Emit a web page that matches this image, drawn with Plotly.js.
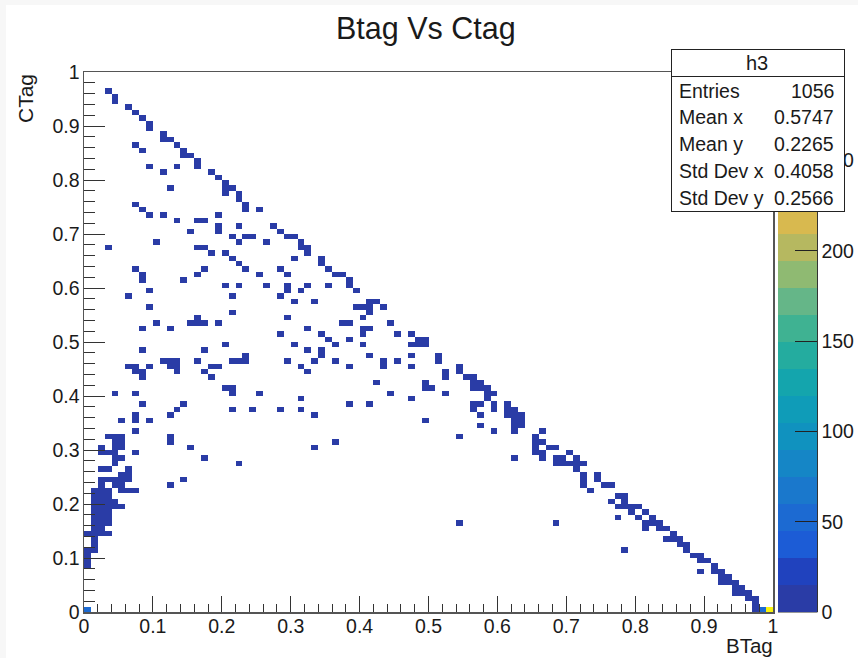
<!DOCTYPE html>
<html><head><meta charset="utf-8">
<script src="https://cdn.plot.ly/plotly-3.0.1.min.js"></script>
<style>
html,body{margin:0;padding:0;background:#f7f7f7;width:858px;height:658px;overflow:hidden}
#sheet{position:absolute;left:6px;top:5px;right:0;bottom:0;background:#fff}
#plot{position:absolute;left:0;top:0;width:858px;height:658px}
</style></head><body><div id="sheet"></div><div id="plot"></div>
<script>
// Filled histogram bins: [x bin, y bin] on a 100 x 100 grid, low-count cells
const lowBins = [
[3,96],[4,95],[4,94],[6,93],[7,92],[8,91],[9,90],[9,89],[11,88],[11,87],[12,87],[13,86],[14,85],[14,84],[15,84],
[16,83],[16,82],[18,81],[19,80],[20,79],[20,78],[20,77],[21,78],[22,77],[22,76],[23,75],[23,74],[25,74],
[27,71],[28,70],[29,69],[30,69],[31,68],[31,67],[32,67],[32,66],[34,65],[34,64],[35,63],[36,62],[37,62],[38,61],[38,60],[39,59],
[41,57],[42,57],[41,56],[41,55],[39,56],[40,56],[43,56],[40,54],[44,53],[37,53],[38,53],[40,52],[41,52],[40,51],[45,51],[47,51],
[48,50],[49,50],[47,49],[48,49],[49,49],[34,51],[35,50],[38,50],[32,52],[28,51],[29,54],[21,55],[9,56],[21,58],[28,58],[30,57],[33,57],
[6,58],[9,59],[20,60],[22,60],[26,60],[29,60],[29,59],[31,59],[32,60],[35,60],[7,63],[8,62],[8,61],[14,61],[16,62],[17,63],
[23,63],[22,64],[21,65],[20,66],[18,66],[16,67],[17,67],[3,67],[10,68],[22,68],[21,69],[23,69],[24,69],[26,68],[30,65],[25,62],[28,63],[29,62],
[19,73],[19,71],[19,70],[22,71],[15,70],[7,75],[8,74],[9,73],[11,73],[13,72],[16,72],[17,72],
[7,86],[8,85],[9,82],[11,81],[13,82],[12,78],[8,52],[10,53],[12,52],[15,53],[16,53],[17,53],[16,54],[19,53],
[0,8],[0,9],[0,10],[0,11],[1,11],[1,12],[1,13],[0,14],[1,14],[2,14],[3,14],[1,15],[2,15],[1,16],[2,16],[3,16],[1,17],[2,17],[3,17],[1,18],[2,18],[3,18],
[1,19],[2,19],[3,19],[4,19],[5,19],[1,20],[2,20],[3,20],[4,20],[1,21],[2,21],[3,21],[1,22],[2,22],[3,22],[5,22],[6,22],[7,22],[2,23],[4,23],[5,23],
[2,24],[3,24],[4,24],[5,24],[6,24],[5,25],[6,25],[6,26],[2,26],[3,26],[4,27],[4,28],[5,28],[2,29],[3,29],[4,29],[7,29],[2,30],[4,30],[5,30],[4,31],[5,31],[3,32],[4,32],[5,32],
[7,33],[5,35],[7,35],[7,36],[9,35],[12,32],[12,31],[15,30],[17,28],[22,27],[14,24],[12,23],[33,30],[36,31],[12,36],[13,37],[14,38],[8,38],[4,40],[7,40],
[20,41],[21,41],[21,40],[25,40],[21,37],[24,37],[28,37],[31,37],[31,39],[33,36],[38,38],[41,38],[44,40],[47,39],[42,42],[49,35],[49,42],[49,41],[50,41],
[8,48],[17,48],[20,49],[30,49],[32,48],[36,49],[40,49],[34,48],[34,47],[41,47],[47,47],[23,47],[21,46],[22,46],[23,46],[16,46],[11,46],[12,46],[13,46],[12,45],[13,45],[13,44],
[6,45],[7,45],[9,45],[7,44],[8,44],[8,43],[17,44],[18,45],[19,45],[18,43],[29,46],[31,45],[32,44],[33,46],[36,46],[38,45],[43,46],[43,45],[45,46],[47,45],
[51,47],[51,46],[54,45],[54,44],[52,44],[52,43],[55,43],[56,43],[56,42],[57,42],[56,41],[57,41],[58,41],[49,42],[44,40],[52,40],[58,40],[59,40],[58,39],
[56,38],[57,38],[56,37],[59,38],[59,37],[61,38],[61,37],[62,37],[61,36],[62,36],[63,36],[62,35],[63,35],[62,34],[63,34],[62,33],[57,36],[57,34],[59,33],[66,33],
[54,32],[65,32],[65,31],[66,31],[65,30],[67,30],[68,30],[65,29],[66,29],[66,28],[62,28],[70,29],[68,28],[69,28],[71,28],[68,27],[69,27],[70,27],[71,27],[72,27],[71,26],
[72,25],[72,24],[72,23],[74,25],[74,24],[75,23],[76,23],[73,22],[77,21],[78,21],[76,20],[78,20],[77,19],[78,19],[79,19],[80,19],[79,18],[81,18],[82,17],[80,17],[77,17],
[81,16],[82,16],[83,16],[81,15],[83,15],[84,15],[85,14],[84,13],[85,13],[86,13],[86,12],[87,12],[87,11],[88,10],[89,10],[89,9],[90,9],[91,8],[91,7],[92,7],[89,7],
[92,6],[93,6],[92,5],[93,5],[94,5],[94,4],[95,4],[94,3],[95,3],[96,3],[96,2],[97,2],[97,1],[97,0],[78,11],[54,16],[68,16]
];
const lowCount = 2;
// Bins that stand out from the rest
const peakBinX = [0, 98, 99];
const peakBinY = [0, 0, 0];
const peakCount = [48, 46, 292];

const zMax = 299;
const paletteBands = ['#2a3ca6','#2042be','#1c5cd6','#1c6ad2','#1a78cc','#1586c6','#1092bf','#0f9cb8','#14a5ad','#24ac9f','#3fb292',
 '#65b688','#8fba72','#b6b860','#d8b94f','#ecbb40','#f8c432','#f9d426','#f8e61a','#f9f50f'];

const titleText = 'Btag Vs Ctag';
const xTitle = 'BTag';
const yTitle = 'CTag';
const statsName = 'h3';
const statsLabels = ['Entries','Mean x','Mean y','Std Dev x','Std Dev y'];
const statsValues = ['1056','0.5747','0.2265','0.4058','0.2566'];

const FONT = '"Liberation Sans", Arial, sans-serif';
const W = 858, H = 658, L = 84, R = 773, T = 72, B = 612;
const px = v => (v - L) / (R - L);
const py = v => (B - v) / (B - T);

const z = Array.from({length:100}, () => Array(100).fill(null));
lowBins.forEach(([i,j]) => { z[j][i] = lowCount; });
peakBinX.forEach((i,k) => { z[peakBinY[k]][i] = peakCount[k]; });

const cs = [];
paletteBands.forEach((c,k) => { cs.push([k/20,c]); cs.push([(k+1)/20,c]); });

const note = (text,x,y,xa,ya,size,extra) => Object.assign({text, x:px(x), y:py(y), xref:'paper', yref:'paper',
  xanchor:xa, yanchor:ya, showarrow:false, font:{family:FONT,size,color:'#1a1a1a'}, borderpad:0}, extra||{});

const rowY = [91,117,144,171,198];
const annotations = [
  note(' ',670.5,49,'left','top',12,{width:172,height:161,bgcolor:'#fff',bordercolor:'#222',borderwidth:1}),
  note(' ',670.5,49,'left','top',12,{width:172,height:26,bgcolor:'#fff',bordercolor:'#222',borderwidth:1}),
  note(statsName,757,63,'center','middle',20),
  note(titleText,425.5,28,'center','middle',30.5),
  note(xTitle,774,645.5,'right','middle',20.5),
  note(yTitle,25,98,'center','middle',21,{textangle:-90})
];
statsLabels.forEach((s,k)=>annotations.push(note(s,678,rowY[k],'left','middle',19.5)));
statsValues.forEach((s,k)=>annotations.push(note(s,835,rowY[k],'right','middle',19.5)));

const axisBase = {range:[0,1], dtick:0.1, tick0:0, showgrid:false, zeroline:false, showline:true, mirror:true,
  linecolor:'#555', linewidth:1.5, ticks:'inside', tickcolor:'#333', tickwidth:1,
  tickfont:{family:FONT,size:19.5,color:'#1a1a1a'}, automargin:false};

Plotly.newPlot('plot',[{
  type:'heatmap', x0:0.005, dx:0.01, y0:0.005, dy:0.01, z, zmin:0, zmax:zMax, colorscale:cs, hoverongaps:false, xgap:0, ygap:0,
  colorbar:{x:px(778), xanchor:'left', xpad:0, y:0, yanchor:'bottom', ypad:0, len:1, lenmode:'fraction',
    thickness:39, thicknessmode:'pixels', tick0:0, dtick:50, ticks:'inside', ticklen:22, tickcolor:'#222', tickwidth:1,
    outlinewidth:0, tickfont:{family:FONT,size:19.5,color:'#1a1a1a'}}
}],{
  width:W, height:H, margin:{l:L,r:W-R,t:T,b:H-B,pad:0,autoexpand:false}, paper_bgcolor:'rgba(0,0,0,0)', plot_bgcolor:'rgba(0,0,0,0)',
  xaxis:Object.assign({},axisBase,{ticklen:16,minor:{dtick:0.02,ticks:'inside',ticklen:8,tickcolor:'#333',tickwidth:1},ticklabelstandoff:-4}),
  yaxis:Object.assign({},axisBase,{ticklen:21,minor:{dtick:0.02,ticks:'inside',ticklen:11,tickcolor:'#333',tickwidth:1},ticklabelstandoff:-1}),
  shapes:[{type:'line',xref:'paper',yref:'paper',x0:px(817.5),x1:px(817.5),y0:0,y1:1,line:{color:'#333',width:1}},
          {type:'line',xref:'paper',yref:'paper',x0:px(778),x1:px(817.5),y0:0,y1:0,line:{color:'#333',width:1}}],
  annotations, showlegend:false
},{displayModeBar:false,staticPlot:true});
</script></body></html>
